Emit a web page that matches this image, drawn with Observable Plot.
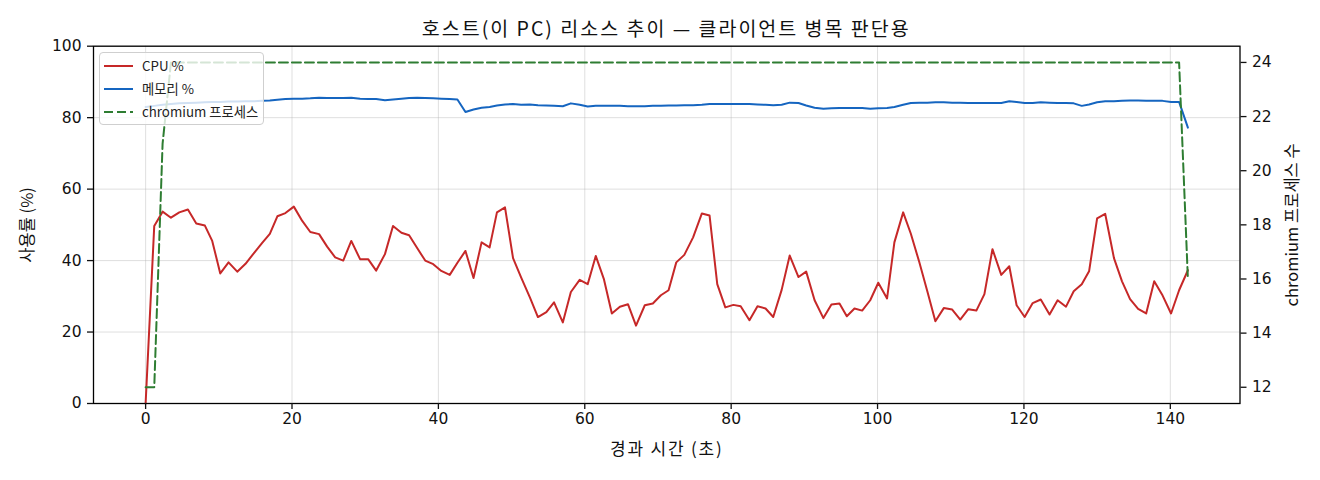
<!DOCTYPE html>
<html><head><meta charset="utf-8">
<script src="https://cdn.jsdelivr.net/npm/d3@7"></script>
<script src="https://cdn.jsdelivr.net/npm/@observablehq/plot@0.6"></script>
<style>
body{margin:0;background:#fff;font-family:"Noto Sans CJK KR","Noto Sans",sans-serif;}
#wrap{position:relative;width:1320px;height:480px;overflow:hidden;background:#fff;}
#title{margin-left:93px;width:1146.5px;height:45px;box-sizing:border-box;padding-top:17px;text-align:center;font-size:19.5px;letter-spacing:2px;line-height:22px;color:#111;white-space:nowrap;}
#chart svg{display:block;overflow:visible;}
#chart svg .xlabel text{letter-spacing:1.8px;}
#legend{position:absolute;left:98.5px;top:51.5px;width:165px;height:73px;box-sizing:border-box;border:1px solid #cfcfcf;border-radius:4px;background:rgba(255,255,255,0.8);padding-top:1.5px;padding-left:4.5px;}
#legend .item{display:flex;align-items:center;height:23px;font-size:13.3px;color:#222;white-space:nowrap;}
#legend svg{width:29px;height:10px;margin-right:9px;flex:none;}
</style></head><body>
<div id="wrap">
<div id="title"></div>
<div id="chart"></div>
<div id="legend"></div>
</div>
<script>
// elapsed time (s)
const time = [
  0, 1.18, 2.32, 3.46, 4.6, 5.78, 6.92, 8.1, 9.1, 10.2,
  11.33, 12.52, 13.65, 14.8, 15.9, 16.97, 18.0, 19.1, 20.25, 21.4,
  22.5, 23.7, 24.8, 25.9, 27.0, 28.1, 29.3, 30.4, 31.5, 32.7,
  33.8, 34.95, 36.0, 37.1, 38.2, 39.3, 40.4, 41.55, 42.6, 43.7,
  44.8, 45.9, 47.0, 48.0, 49.1, 50.2, 51.3, 52.5, 53.6, 54.75,
  55.8, 57.0, 58.1, 59.3, 60.4, 61.5, 62.6, 63.7, 64.8, 65.9,
  67.0, 68.2, 69.3, 70.4, 71.45, 72.5, 73.6, 74.8, 76.0, 77.05,
  78.1, 79.2, 80.3, 81.3, 82.5, 83.6, 84.7, 85.75, 86.9, 88.0,
  89.2, 90.25, 91.4, 92.6, 93.7, 94.8, 95.8, 96.85, 97.9, 99.0,
  100.1, 101.3, 102.3, 103.5, 104.55, 105.7, 106.8, 107.9, 109.05, 110.2,
  111.3, 112.4, 113.5, 114.6, 115.7, 116.9, 118.0, 119.0, 120.1, 121.2,
  122.3, 123.5, 124.6, 125.75, 126.8, 127.9, 128.9, 130.0, 131.1, 132.3,
  133.4, 134.5, 135.6, 136.7, 137.8, 138.95, 140.1, 141.2, 142.4
];
// CPU %
const cpu = [
  0, 49.7, 53.7, 52.0, 53.5, 54.3, 50.4, 49.8, 45.5, 36.4,
  39.5, 36.9, 39.1, 42.1, 44.9, 47.5, 52.4, 53.3, 55.1, 51.1,
  48.0, 47.4, 43.9, 40.9, 40.0, 45.5, 40.4, 40.4, 37.2, 41.8,
  49.7, 47.8, 47.1, 43.5, 40.0, 39.0, 37.1, 36.0, 39.4, 42.7,
  35.1, 45.1, 43.7, 53.5, 54.9, 40.7, 35.3, 29.7, 24.2, 25.6,
  28.3, 22.7, 31.2, 34.6, 33.4, 41.3, 34.9, 25.2, 27.1, 27.8,
  21.8, 27.5, 28.0, 30.3, 31.7, 39.5, 41.6, 46.5, 53.2, 52.6,
  33.4, 26.9, 27.6, 27.2, 23.3, 27.2, 26.6, 24.2, 31.8, 41.4,
  35.4, 36.9, 28.9, 23.9, 27.7, 28.0, 24.4, 26.6, 26.0, 28.9,
  33.8, 29.4, 45.1, 53.5, 47.5, 39.6, 31.4, 23.0, 26.7, 26.3,
  23.5, 26.4, 26.0, 30.6, 43.2, 36.0, 38.4, 27.5, 24.2, 28.1,
  29.1, 24.9, 28.9, 27.1, 31.4, 33.4, 37.0, 51.8, 53.1, 40.7,
  34.2, 29.2, 26.5, 25.2, 34.2, 30.2, 25.2, 31.7, 37.3
];
// memory %
const mem = [
  83.0, 83.3, 83.6, 83.8, 84.0, 84.1, 84.2, 84.3, 84.4, 84.4,
  84.5, 84.5, 84.6, 84.6, 84.7, 84.8, 85.0, 85.2, 85.3, 85.3,
  85.4, 85.6, 85.5, 85.5, 85.5, 85.6, 85.3, 85.2, 85.2, 84.9,
  85.1, 85.3, 85.5, 85.6, 85.5, 85.4, 85.3, 85.2, 85.1, 81.6,
  82.3, 82.8, 83.0, 83.4, 83.7, 83.8, 83.6, 83.7, 83.5, 83.4,
  83.3, 83.2, 84.0, 83.6, 83.1, 83.3, 83.3, 83.3, 83.3, 83.2,
  83.2, 83.2, 83.3, 83.3, 83.4, 83.4, 83.5, 83.5, 83.6, 83.8,
  83.8, 83.8, 83.8, 83.8, 83.8, 83.7, 83.6, 83.5, 83.6, 84.2,
  84.1, 83.4, 82.8, 82.5, 82.6, 82.7, 82.7, 82.7, 82.7, 82.5,
  82.6, 82.7, 83.0, 83.6, 84.1, 84.2, 84.2, 84.3, 84.3, 84.2,
  84.2, 84.1, 84.1, 84.1, 84.1, 84.1, 84.6, 84.4, 84.1, 84.1,
  84.3, 84.2, 84.1, 84.1, 84.0, 83.3, 83.7, 84.3, 84.6, 84.6,
  84.7, 84.8, 84.8, 84.7, 84.7, 84.7, 84.4, 84.4, 77.2
];
// chromium process count
const chromium = [
  12, 12, 21, 24, 24, 24, 24, 24, 24, 24,
  24, 24, 24, 24, 24, 24, 24, 24, 24, 24,
  24, 24, 24, 24, 24, 24, 24, 24, 24, 24,
  24, 24, 24, 24, 24, 24, 24, 24, 24, 24,
  24, 24, 24, 24, 24, 24, 24, 24, 24, 24,
  24, 24, 24, 24, 24, 24, 24, 24, 24, 24,
  24, 24, 24, 24, 24, 24, 24, 24, 24, 24,
  24, 24, 24, 24, 24, 24, 24, 24, 24, 24,
  24, 24, 24, 24, 24, 24, 24, 24, 24, 24,
  24, 24, 24, 24, 24, 24, 24, 24, 24, 24,
  24, 24, 24, 24, 24, 24, 24, 24, 24, 24,
  24, 24, 24, 24, 24, 24, 24, 24, 24, 24,
  24, 24, 24, 24, 24, 24, 24, 24, 16
];
const xTicks = [0, 20, 40, 60, 80, 100, 120, 140];
const yTicks = [0, 20, 40, 60, 80, 100];
const rightTicks = [12, 14, 16, 18, 20, 22, 24];
const seriesNames = ["CPU %", "메모리 %", "chromium 프로세스"];
const seriesColors = ["#c62828", "#1565c0", "#2e7d32"];
const labels = {title: "호스트(이 PC) 리소스 추이 — 클라이언트 병목 판단용", x: "경과 시간 (초)", y: "사용률 (%)", y2: "chromium 프로세스 수"};

const data = time.map((t, i) => ({t, cpu: cpu[i], mem: mem[i], chrom: chromium[i]}));
const R0 = 11.4, R1 = 24.6;
const toLeft = c => (c - R0) / (R1 - R0) * 100;
const fromLeft = v => R0 + v / 100 * (R1 - R0);
const FS = 16.5;
const TICKFONT = '"DejaVu Sans", "Noto Sans", sans-serif';

const chart = Plot.plot({
  width: 1320, height: 435,
  marginLeft: 93, marginRight: 80.5, marginTop: 0.7, marginBottom: 77,
  style: {fontFamily: '"Noto Sans CJK KR", "Noto Sans", sans-serif', fontSize: FS + "px", color: "#111", background: "white", overflow: "visible"},
  x: {domain: [-7.12, 149.52]},
  y: {domain: [0, 100]},
  marks: [
    Plot.gridX(xTicks, {stroke: "#b0b0b0", strokeOpacity: 0.4, strokeWidth: 1}),
    Plot.gridY(yTicks, {stroke: "#b0b0b0", strokeOpacity: 0.4, strokeWidth: 1}),
    Plot.line(data, {x: "t", y: "cpu", stroke: seriesColors[0], strokeWidth: 2}),
    Plot.line(data, {x: "t", y: "mem", stroke: seriesColors[1], strokeWidth: 2}),
    Plot.line(data, {x: "t", y: d => toLeft(d.chrom), stroke: seriesColors[2], strokeWidth: 2, strokeDasharray: "9,4"}),
    Plot.frame({stroke: "#000", strokeWidth: 1.3}),
    Plot.axisX(xTicks, {tickSize: 6, tickPadding: 3, label: null, strokeWidth: 1.3, fontSize: 15.5, fontFamily: TICKFONT}),
    Plot.axisY(yTicks, {anchor: "left", tickSize: 6, tickPadding: 6, label: null, strokeWidth: 1.3, fontSize: 15.5, fontFamily: TICKFONT}),
    Plot.axisY(rightTicks.map(toLeft), {anchor: "right", tickSize: 6, tickPadding: 6, label: null, strokeWidth: 1.3, fontSize: 15.5, fontFamily: TICKFONT, tickFormat: v => Math.round(fromLeft(v))}),
    Plot.text([labels.y], {frameAnchor: "left", dx: -66, rotate: -90, text: d => d, fontSize: FS, textAnchor: "middle", lineAnchor: "middle"}),
    Plot.text([labels.y2], {frameAnchor: "right", dx: 52.5, rotate: -90, text: d => d, fontSize: FS, textAnchor: "middle", lineAnchor: "middle"}),
    Plot.text([labels.x], {frameAnchor: "bottom", dy: 46, text: d => d, fontSize: 17, textAnchor: "middle", lineAnchor: "middle", className: "xlabel"})
  ]
});
document.getElementById("chart").appendChild(chart);
document.getElementById("title").textContent = labels.title;

const legend = document.getElementById("legend");
seriesNames.forEach((name, i) => {
  const item = document.createElement("div");
  item.className = "item";
  const dash = i === 2 ? ' stroke-dasharray="9,4"' : '';
  item.innerHTML = `<svg viewBox="0 0 29 10"><line x1="0" y1="5" x2="29" y2="5" stroke="${seriesColors[i]}" stroke-width="2"${dash}/></svg><span></span>`;
  item.querySelector("span").textContent = name;
  legend.appendChild(item);
});
</script>
</body></html>
